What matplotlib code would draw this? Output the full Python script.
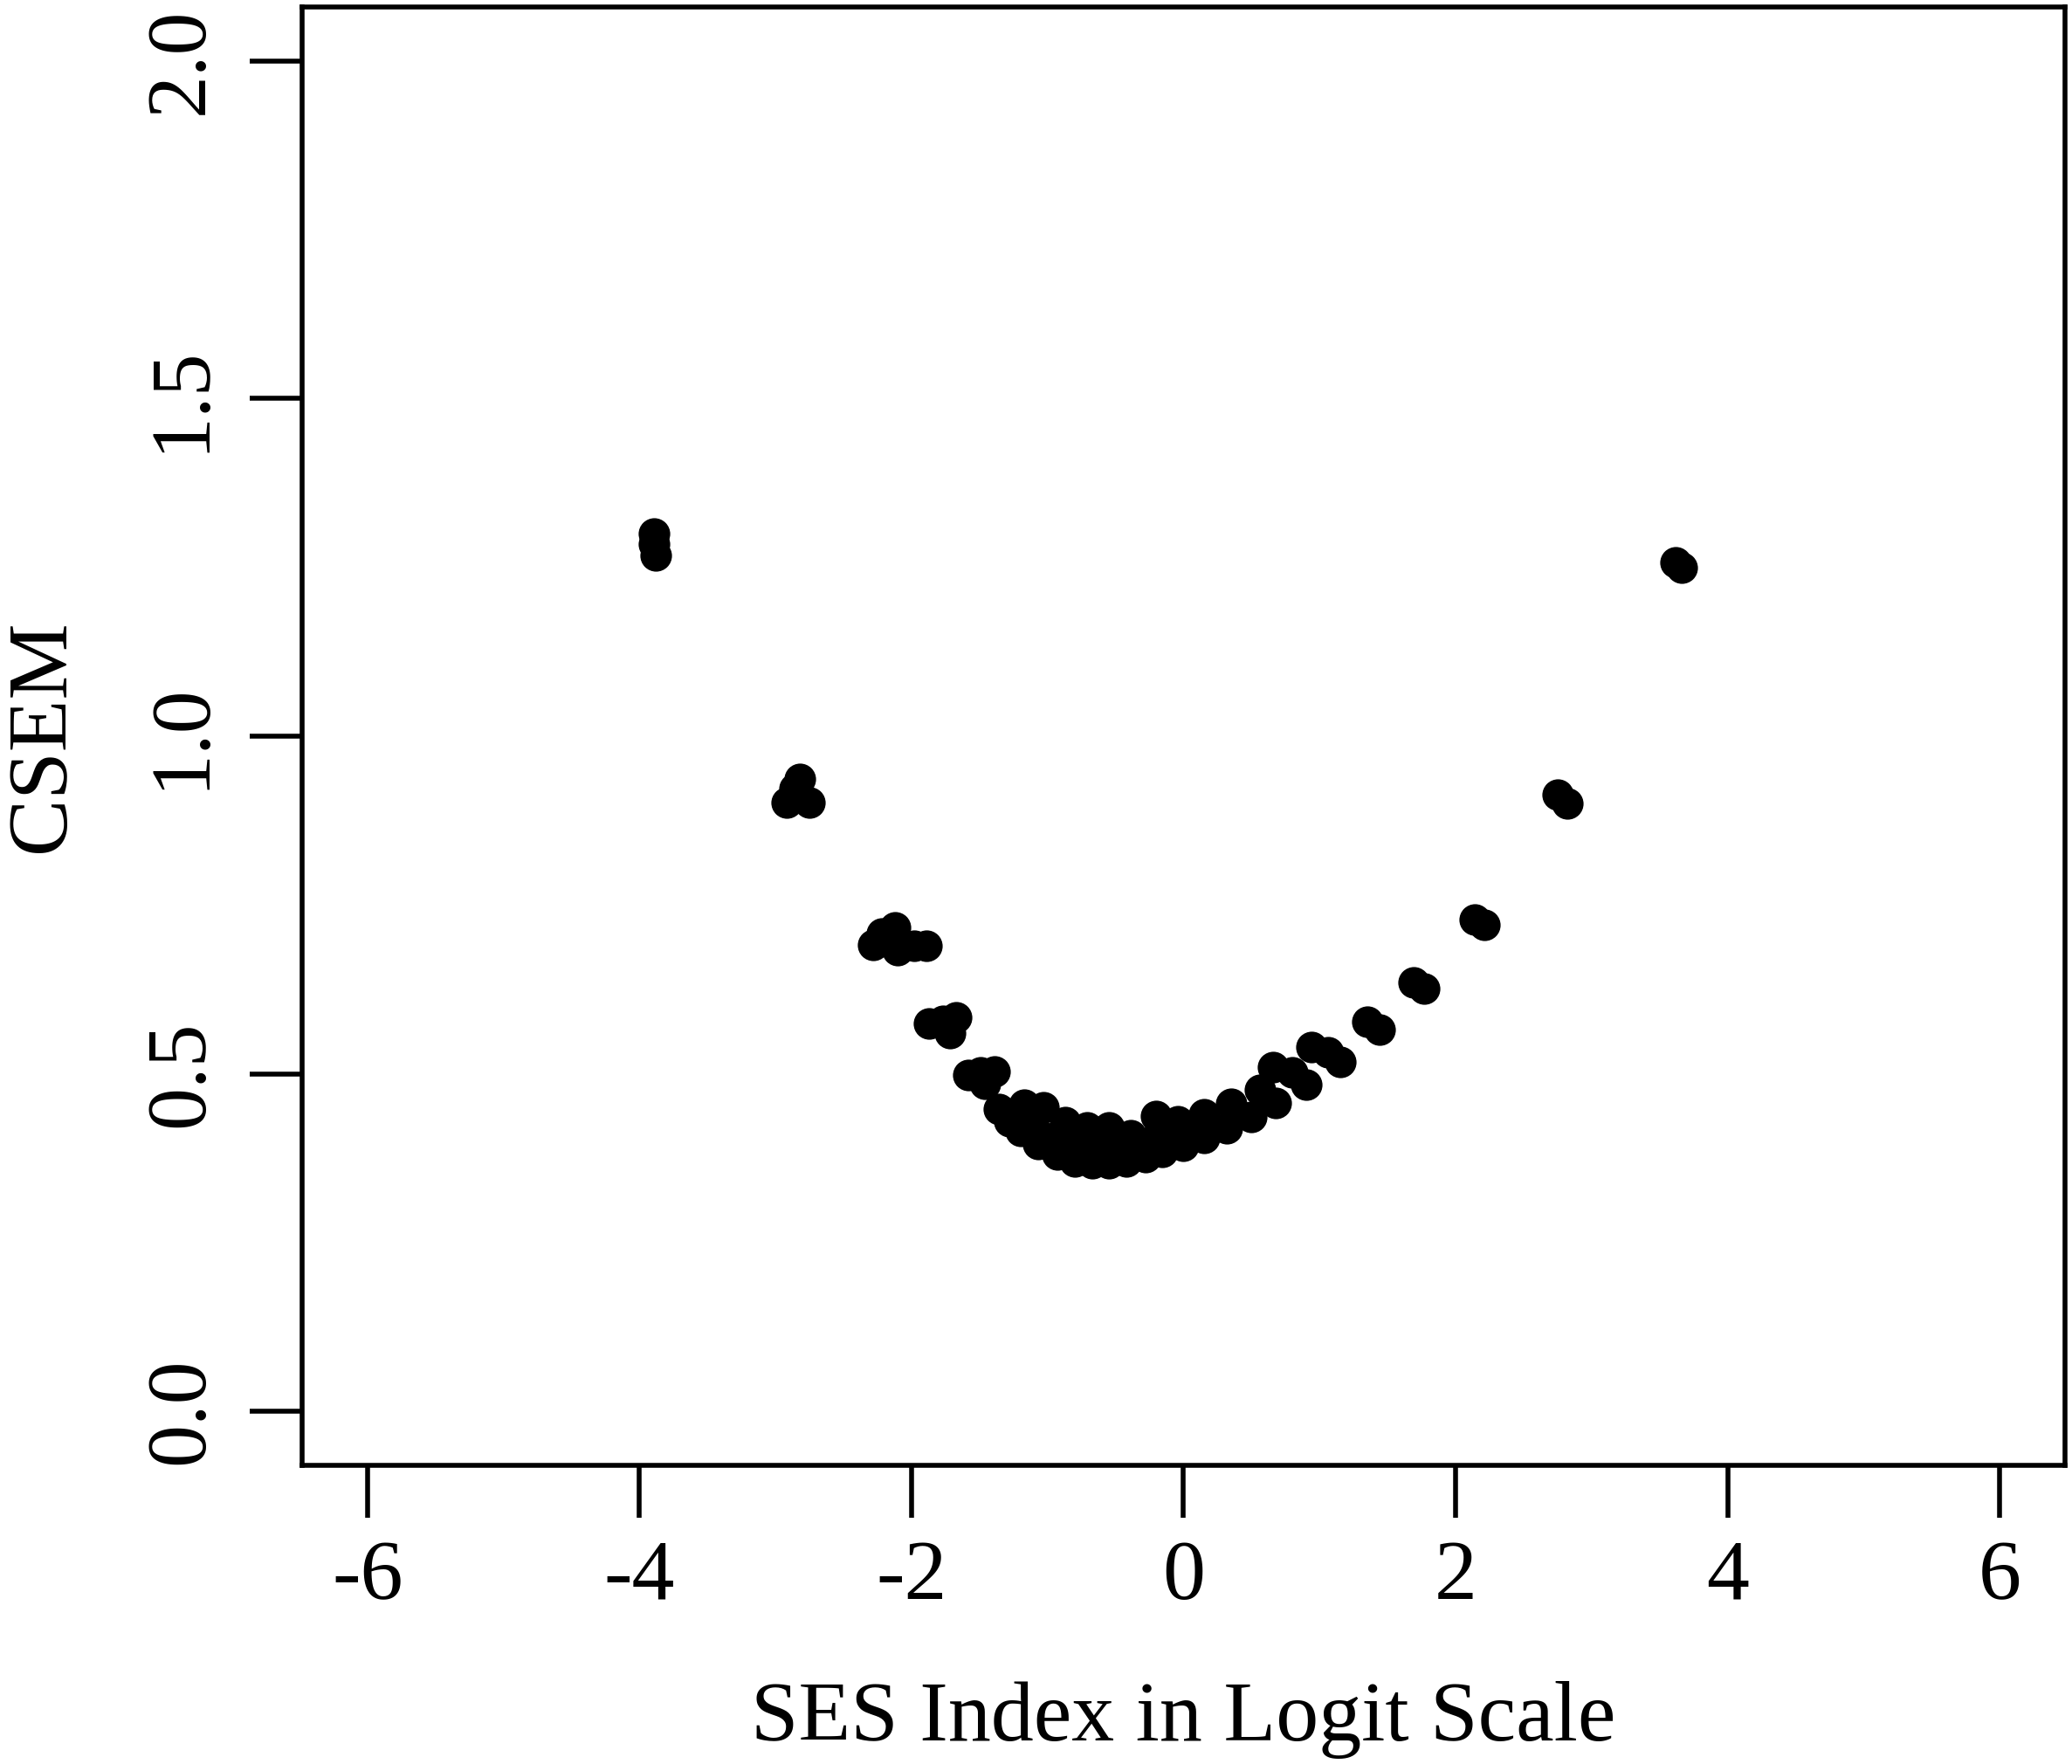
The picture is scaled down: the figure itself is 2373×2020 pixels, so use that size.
import matplotlib
matplotlib.use("Agg")
import matplotlib.pyplot as plt

# SES index (logit) and CSEM values
ses = [-3.89, -3.89, -3.88,
       -2.92, -2.86, -2.82, -2.75,
       -2.28, -2.22, -2.12, -2.10, -1.98, -1.89,
       -1.87, -1.77, -1.67, -1.72,
       -1.58, -1.49, -1.39, -1.46,
       -1.36, -1.17, -1.03, -0.87, -0.71, -0.55, -0.39, -0.20, -0.04, 0.15, 0.35, 0.56, 0.66,
       -1.20, -1.07, -0.93, -0.80, -0.67, -0.55, -0.42, -0.28, -0.16, 0.00, 0.15, 0.32, 0.50, 0.68,
       -1.28, -1.10, -0.95, -0.80, -0.65, -0.50, -0.35, -0.20, -0.05, 0.10, -0.75, -0.60, -0.45, -0.30,
       0.80, 0.90, 0.94, 1.06, 1.15, 1.35, 1.44, 1.69, 1.77, 2.14, 2.21, 2.75, 2.82, 3.62, 3.66]
csem = [1.300, 1.285, 1.268,
        0.902, 0.922, 0.937, 0.902,
        0.691, 0.708, 0.717, 0.683, 0.689, 0.689,
        0.575, 0.579, 0.583, 0.560,
        0.498, 0.502, 0.504, 0.485,
        0.448, 0.454, 0.450, 0.428, 0.420, 0.420, 0.409, 0.437, 0.430, 0.440, 0.455, 0.476, 0.510,
        0.415, 0.396, 0.381, 0.370, 0.368, 0.368, 0.370, 0.377, 0.385, 0.394, 0.405, 0.419, 0.436, 0.457,
        0.430, 0.420, 0.405, 0.395, 0.390, 0.390, 0.390, 0.405, 0.410, 0.420, 0.410, 0.400, 0.400, 0.395,
        0.502, 0.484, 0.540, 0.532, 0.517, 0.577, 0.565, 0.635, 0.626, 0.728, 0.721, 0.913, 0.900, 1.257, 1.250]

x_ticks = [-6, -4, -2, 0, 2, 4, 6]
y_ticks = [0.0, 0.5, 1.0, 1.5, 2.0]

plt.rcParams['font.family'] = ['Liberation Serif', 'DejaVu Serif']
fs = 70.5

fig = plt.figure(figsize=(23.73, 20.20), dpi=100)
ax = fig.add_axes([0.1458, 0.1693, 0.8508, 0.8267])

ax.scatter(ses, csem, s=680, c='black', linewidths=0, zorder=3)

ax.set_xlim(-6.48, 6.48)
ax.set_ylim(-0.08, 2.08)
ax.set_xticks(x_ticks)
ax.set_xticklabels([str(t) for t in x_ticks])
ax.set_yticks(y_ticks)
ax.set_yticklabels(['%.1f' % t for t in y_ticks])

for sp in ax.spines.values():
    sp.set_linewidth(4.0)
ax.tick_params(direction='out', length=43, width=4.0, labelsize=fs)
ax.tick_params(axis='x', pad=18)
ax.tick_params(axis='y', pad=24, labelrotation=90)
for lab in ax.get_yticklabels():
    lab.set_verticalalignment('center')

ax.set_xlabel('SES Index in Logit Scale', fontsize=fs)
ax.xaxis.set_label_coords(0.5, -(1993 - 1678) / 1670.0)
ax.xaxis.label.set_verticalalignment('baseline')

ax.set_ylabel('CSEM', fontsize=fs)
ax.yaxis.set_label_coords(-(346 - 73) / 2019.0, 0.5)
ax.yaxis.label.set_verticalalignment('baseline')

fig.savefig('out.png', dpi=100, facecolor='white')
